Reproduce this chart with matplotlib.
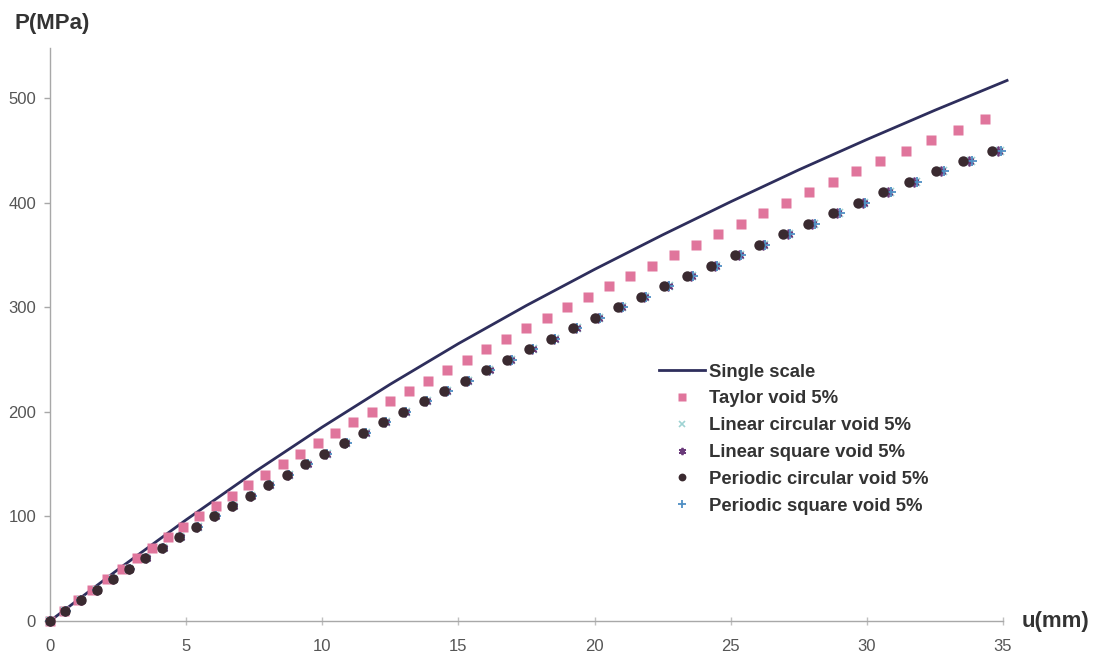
import matplotlib
matplotlib.use("Agg")
import matplotlib.pyplot as plt

# Load levels (MPa) for the discrete series
p_taylor = [0, 10, 20, 30, 40, 50, 60, 70, 80, 90, 100, 110, 120, 130, 140, 150,
            160, 170, 180, 190, 200, 210, 220, 230, 240, 250, 260, 270, 280, 290,
            300, 310, 320, 330, 340, 350, 360, 370, 380, 390, 400, 410, 420, 430,
            440, 450, 460, 470, 480]
p_void = [0, 10, 20, 30, 40, 50, 60, 70, 80, 90, 100, 110, 120, 130, 140, 150,
          160, 170, 180, 190, 200, 210, 220, 230, 240, 250, 260, 270, 280, 290,
          300, 310, 320, 330, 340, 350, 360, 370, 380, 390, 400, 410, 420, 430,
          440, 450]

# Displacements (mm)
u_taylor = [0.00, 0.51, 1.03, 1.56, 2.09, 2.64, 3.19, 3.75, 4.32, 4.90, 5.48,
            6.08, 6.68, 7.29, 7.91, 8.54, 9.18, 9.83, 10.48, 11.14, 11.82,
            12.50, 13.18, 13.88, 14.59, 15.30, 16.02, 16.75, 17.49, 18.24,
            19.00, 19.76, 20.54, 21.32, 22.11, 22.91, 23.72, 24.53, 25.36,
            26.19, 27.03, 27.88, 28.74, 29.61, 30.50, 31.42, 32.36, 33.34, 34.34]
u_per_circ = [0.00, 0.56, 1.13, 1.71, 2.30, 2.89, 3.50, 4.12, 4.74, 5.38, 6.02,
              6.67, 7.34, 8.01, 8.69, 9.38, 10.08, 10.79, 11.51, 12.23, 12.97,
              13.72, 14.47, 15.24, 16.01, 16.80, 17.59, 18.39, 19.20, 20.02,
              20.85, 21.69, 22.54, 23.40, 24.27, 25.15, 26.03, 26.93, 27.83,
              28.75, 29.67, 30.60, 31.55, 32.55, 33.55, 34.60]
u_lin_circ = [0.00, 0.56, 1.14, 1.72, 2.32, 2.91, 3.53, 4.15, 4.78, 5.42, 6.07,
              6.72, 7.40, 8.07, 8.76, 9.45, 10.16, 10.88, 11.60, 12.33, 13.07,
              13.83, 14.59, 15.36, 16.14, 16.93, 17.73, 18.54, 19.35, 20.18,
              21.02, 21.86, 22.72, 23.59, 24.46, 25.35, 26.24, 27.15, 28.05,
              28.98, 29.91, 30.84, 31.80, 32.81, 33.82, 34.88]
u_lin_sq = [0.00, 0.56, 1.14, 1.72, 2.31, 2.91, 3.52, 4.14, 4.77, 5.41, 6.06,
            6.71, 7.38, 8.06, 8.74, 9.44, 10.14, 10.85, 11.58, 12.30, 13.05,
            13.80, 14.56, 15.33, 16.11, 16.90, 17.70, 18.50, 19.32, 20.14,
            20.98, 21.82, 22.68, 23.54, 24.42, 25.30, 26.19, 27.09, 28.00,
            28.92, 29.85, 30.78, 31.74, 32.74, 33.75, 34.80]
u_per_sq = [0.00, 0.57, 1.15, 1.73, 2.33, 2.92, 3.54, 4.16, 4.79, 5.43, 6.08,
            6.73, 7.41, 8.08, 8.77, 9.46, 10.17, 10.89, 11.61, 12.34, 13.09,
            13.84, 14.60, 15.38, 16.16, 16.95, 17.75, 18.56, 19.37, 20.20,
            21.04, 21.89, 22.74, 23.61, 24.49, 25.38, 26.27, 27.17, 28.08,
            29.01, 29.94, 30.88, 31.83, 32.84, 33.85, 34.91]

# Single-scale reference curve
u_single = [0.0, 2.5, 5.0, 7.5, 10.0, 12.5, 15.0, 17.5, 20.0, 22.5, 25.0,
            27.5, 30.0, 32.5, 35.15]
p_single = [0, 49.3, 96.8, 142.3, 185.5, 226.5, 265.3, 301.8, 336.3, 369.3,
            401, 431.5, 460.5, 488.5, 517]

labels = ["Single scale", "Taylor void 5%", "Linear circular void 5%",
          "Linear square void 5%", "Periodic circular void 5%",
          "Periodic square void 5%"]

plt.rcParams['font.family'] = ['Liberation Sans', 'DejaVu Sans']

fig = plt.figure(figsize=(10.94, 6.58), dpi=100)
ax = fig.add_axes([0.0457, 0.0562, 0.8711, 0.8708])

ax.plot(u_single, p_single, color="#2e2e5c", lw=2.0, label=labels[0],
        zorder=2, clip_on=False)
ax.plot(u_taylor, p_taylor, ls="none", marker="s", ms=7, color="#e0759c",
        mec="none", label=labels[1], zorder=3, clip_on=False)
ax.plot(u_lin_circ, p_void, ls="none", marker="x", ms=6, mew=1.2,
        color="#9fd3d3", label=labels[2], zorder=3, clip_on=False)
ax.plot(u_lin_sq, p_void, ls="none", marker=(6, 2, 0), ms=7, mew=1.3,
        color="#6a3a7a", label=labels[3], zorder=3, clip_on=False)
ax.plot(u_per_circ, p_void, ls="none", marker="o", ms=7.5, color="#3a2a30",
        mec="none", label=labels[4], zorder=5, clip_on=False)
ax.plot(u_per_sq, p_void, ls="none", marker="+", ms=7, mew=1.3,
        color="#4f8fc4", label=labels[5], zorder=4, clip_on=False)

ax.set_xlim(0, 35)
ax.set_ylim(0, 548)
ax.set_xticks(range(0, 36, 5))
ax.set_yticks(range(0, 501, 100))

for side in ("top", "right"):
    ax.spines[side].set_visible(False)
for side in ("left", "bottom"):
    ax.spines[side].set_color("#a8a8a8")
    ax.spines[side].set_linewidth(1.0)

ax.tick_params(axis="y", direction="out", length=4, width=1, color="#a8a8a8",
               labelsize=12, labelcolor="#555555", pad=6)
ax.tick_params(axis="x", direction="inout", length=6, width=1, color="#c0c0c0",
               labelsize=12, labelcolor="#555555", pad=10)

fig.text(0.0137, 0.965, "P(MPa)", fontsize=16, fontweight="bold",
         color="#333333", va="center", ha="left")
fig.text(0.934, 0.056, "u(mm)", fontsize=16, fontweight="bold",
         color="#333333", va="center", ha="left")

leg = ax.legend(loc="upper left", bbox_to_anchor=(0.631, 0.462), frameon=False,
                fontsize=13.3, handlelength=2.5, handletextpad=0.2,
                labelspacing=0.53, borderaxespad=0, markerscale=0.75)
for t in leg.get_texts():
    t.set_fontweight("bold")
    t.set_color("#333333")

fig.savefig("out.png", dpi=100, facecolor="white")
